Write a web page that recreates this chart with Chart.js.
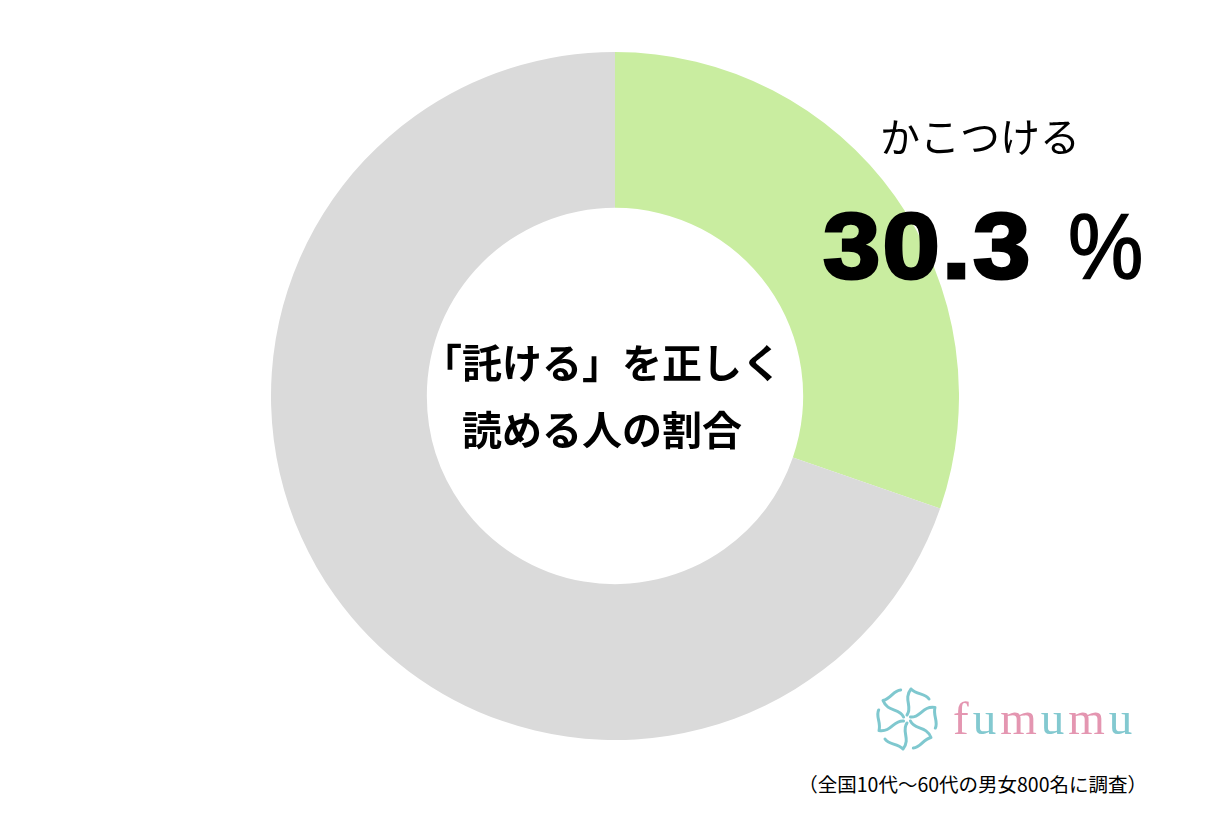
<!DOCTYPE html>
<html lang="ja">
<head>
<meta charset="UTF-8">
<title>「託ける」を正しく読める人の割合</title>
<script src="https://cdn.jsdelivr.net/npm/chart.js"></script>
<style>
    body {
        margin: 0;
        width: 1231px;
        height: 821px;
        background: #ffffff;
        position: relative;
        overflow: hidden;
        font-family: "Noto Sans CJK JP", "Noto Sans", sans-serif;
        color: #000;
    }
    .chart-box {
        position: absolute;
        left: 271px;
        top: 52px;
        width: 688px;
        height: 688px;
    }
    .center-label {
        position: absolute;
        left: 402px;
        width: 400px;
        top: 328px;
        text-align: center;
        font-size: 40px;
        font-weight: bold;
        line-height: 67px;
    }
    .slice-name {
        position: absolute;
        left: 860px;
        width: 240px;
        top: 115px;
        text-align: center;
        font-size: 40px;
        line-height: 40px;
    }
    .num, .pct {
        position: absolute;
        top: 200px;
        font-family: "Liberation Sans", Arial, sans-serif;
        font-size: 92px;
        line-height: 92px;
        white-space: nowrap;
    }
    .num {
        left: 823px;
        font-weight: bold;
        letter-spacing: 2px;
        -webkit-text-stroke: 3px #000;
        transform: scaleX(1.12);
        transform-origin: left top;
    }
    .pct {
        left: 1068px;
        font-weight: normal;
        -webkit-text-stroke: 1.5px #000;
        transform: scaleX(0.92);
        transform-origin: left top;
    }
    .logo {
        position: absolute;
        left: 872px;
        top: 684px;
    }
    .logo-text {
        position: absolute;
        left: 953px;
        top: 690px;
        font-family: "Liberation Serif", "DejaVu Serif", serif;
        font-size: 47px;
        line-height: 56px;
        letter-spacing: 4px;
    }
    .pink { color: #e496b1; }
    .teal { color: #83c9d0; }
    .note {
        position: absolute;
        right: 84px;
        top: 771px;
        font-size: 19.5px;
        line-height: 26px;
        white-space: nowrap;
    }
</style>
</head>
<body>
<div class="chart-box"><canvas id="donut"></canvas></div>

<div class="center-label">「託ける」を正しく<br>読める人の割合</div>
<div class="slice-name">かこつける</div>
<div class="num">30.3</div>
<div class="pct">%</div>

<svg class="logo" width="70" height="70" viewBox="-35 -35 70 70">
    <g id="arm" fill="none" stroke="#7fc8cf" stroke-width="3" stroke-linecap="round">
        <path d="M0 -4 C6 -12 -4 -20 4 -30 M4 -30 C10 -24 18 -26 22 -20"/>
    </g>
    <use href="#arm" transform="rotate(60)"/>
    <use href="#arm" transform="rotate(120)"/>
    <use href="#arm" transform="rotate(180)"/>
    <use href="#arm" transform="rotate(240)"/>
    <use href="#arm" transform="rotate(300)"/>
</svg>
<div class="logo-text"><span class="pink">f</span><span class="teal">u</span><span class="pink">m</span><span class="teal">u</span><span class="pink">m</span><span class="teal">u</span></div>

<div class="note">（全国10代～60代の男女800名に調査）</div>

<script>
    // 回答の割合
    var labels = ["かこつける", "その他"];
    var values = [30.3, 69.7];
    var colors = ["#c9eda0", "#dadada"];

    var ctx = document.getElementById("donut").getContext("2d");
    var donut = new Chart(ctx, {
        type: "doughnut",
        data: {
            labels: labels,
            datasets: [{
                data: values,
                backgroundColor: colors,
                borderWidth: 0
            }]
        },
        options: {
            responsive: true,
            maintainAspectRatio: false,
            animation: false,
            cutout: "54.7%",
            plugins: {
                legend: { display: false },
                tooltip: { enabled: false }
            }
        }
    });
</script>
</body>
</html>
